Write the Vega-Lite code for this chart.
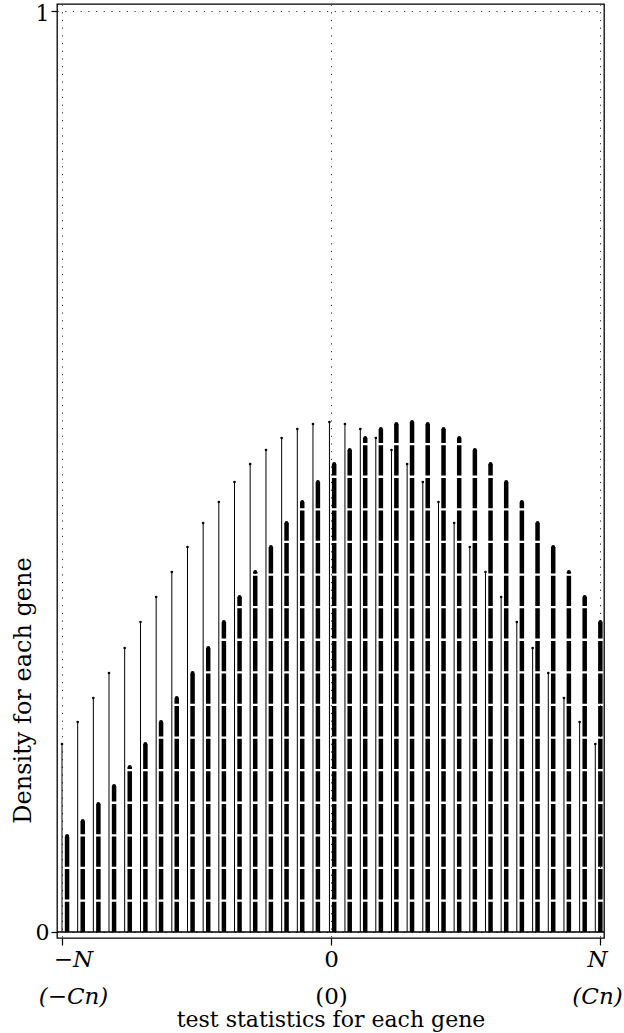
{
  "$schema": "https://vega.github.io/schema/vega-lite/v6.json",
  "width": 547,
  "height": 934,
  "autosize": "none",
  "padding": {"left": 57, "top": 4, "right": 20, "bottom": 95},
  "background": "white",
  "datasets": {
    "thin": [
      {"x": -17.00, "d": 0.2041}, {"x": -16.01, "d": 0.2280}, {"x": -15.02, "d": 0.2541},
      {"x": -14.03, "d": 0.2812}, {"x": -13.04, "d": 0.3084}, {"x": -12.04, "d": 0.3366},
      {"x": -11.05, "d": 0.3637}, {"x": -10.06, "d": 0.3909}, {"x": -9.07, "d": 0.4180},
      {"x": -8.08, "d": 0.4441}, {"x": -7.09, "d": 0.4669}, {"x": -6.10, "d": 0.4886},
      {"x": -5.11, "d": 0.5081}, {"x": -4.11, "d": 0.5233}, {"x": -3.12, "d": 0.5364},
      {"x": -2.13, "d": 0.5461}, {"x": -1.14, "d": 0.5516}, {"x": -0.10, "d": 0.5537},
      {"x": 0.88, "d": 0.5516}, {"x": 1.85, "d": 0.5461}, {"x": 2.83, "d": 0.5364},
      {"x": 3.82, "d": 0.5233}, {"x": 4.81, "d": 0.5081}, {"x": 5.80, "d": 0.4886},
      {"x": 6.79, "d": 0.4669}, {"x": 7.78, "d": 0.4441}, {"x": 8.77, "d": 0.4180},
      {"x": 9.76, "d": 0.3909}, {"x": 10.75, "d": 0.3637}, {"x": 11.74, "d": 0.3366},
      {"x": 12.74, "d": 0.3084}, {"x": 13.73, "d": 0.2812}, {"x": 14.72, "d": 0.2541},
      {"x": 15.71, "d": 0.2280}, {"x": 16.70, "d": 0.2041}
    ],
    "thick": [
      {"x": -16.68, "d": 0.1042}, {"x": -15.69, "d": 0.1205}, {"x": -14.70, "d": 0.1390},
      {"x": -13.71, "d": 0.1585}, {"x": -12.72, "d": 0.1792}, {"x": -11.73, "d": 0.2041},
      {"x": -10.74, "d": 0.2280}, {"x": -9.75, "d": 0.2541}, {"x": -8.75, "d": 0.2812},
      {"x": -7.76, "d": 0.3084}, {"x": -6.77, "d": 0.3366}, {"x": -5.78, "d": 0.3637},
      {"x": -4.79, "d": 0.3909}, {"x": -3.80, "d": 0.4180}, {"x": -2.81, "d": 0.4441},
      {"x": -1.82, "d": 0.4669}, {"x": -0.83, "d": 0.4886}, {"x": 0.20, "d": 0.5081},
      {"x": 1.18, "d": 0.5233}, {"x": 2.16, "d": 0.5364}, {"x": 3.15, "d": 0.5461},
      {"x": 4.13, "d": 0.5516}, {"x": 5.12, "d": 0.5537}, {"x": 6.11, "d": 0.5516},
      {"x": 7.11, "d": 0.5461}, {"x": 8.10, "d": 0.5364}, {"x": 9.09, "d": 0.5233},
      {"x": 10.08, "d": 0.5081}, {"x": 11.07, "d": 0.4886}, {"x": 12.06, "d": 0.4669},
      {"x": 13.05, "d": 0.4441}, {"x": 14.04, "d": 0.4180}, {"x": 15.03, "d": 0.3909},
      {"x": 16.03, "d": 0.3637}, {"x": 17.02, "d": 0.3366}
    ],
    "base": [{"y": 0}]
  },
  "data": {"name": "thin"},
  "layer": [
    {
      "mark": {"type": "rule", "stroke": "black", "strokeWidth": 1},
      "encoding": {
        "x": {
          "field": "x",
          "type": "quantitative",
          "scale": {"domain": [-17.316, 17.25], "nice": false, "zero": false},
          "axis": {
            "values": [-17, 0, 17],
            "title": "test statistics for each gene",
            "titleFontSize": 22,
            "titleY": 81,
            "titleBaseline": "middle",
            "labelExpr": "datum.value == 0 ? ['0', '(0)'] : (datum.value < 0 ? ['−N', '(−Cn)'] : ['N', '(Cn)'])",
            "labelFontStyle": {"condition": {"test": "datum.value != 0", "value": "italic"}, "value": "normal"},
            "labelOffset": {
              "condition": [
                {"test": "datum.value < 0", "value": 11},
                {"test": "datum.value > 0", "value": -3}
              ],
              "value": 0
            },
            "labelFontSize": 23,
            "labelLineHeight": 37,
            "labelBaseline": "top",
            "labelPadding": 3,
            "tickSize": 7
          }
        },
        "y": {
          "field": "d",
          "type": "quantitative",
          "scale": {"domain": [-0.0065, 1.0076], "nice": false, "zero": false},
          "axis": {
            "values": [0, 1],
            "format": "d",
            "title": "Density for each gene",
            "titleFontSize": 24,
            "titleX": -34,
            "titleY": 686,
            "titleAngle": -90,
            "titleAlign": "center",
            "titleBaseline": "middle",
            "labelFontSize": 22,
            "labelPadding": 2,
            "labelOffset": {"condition": {"test": "datum.value == 1", "value": 3}, "value": 0},
            "tickSize": 6
          }
        },
        "y2": {"datum": 0}
      }
    },
    {
      "data": {"name": "base"},
      "mark": {"type": "rule", "stroke": "black", "strokeWidth": 1.5},
      "encoding": {"y": {"field": "y", "type": "quantitative"}}
    },
    {
      "mark": {"type": "circle", "color": "black", "opacity": 1, "size": 7},
      "encoding": {
        "x": {"field": "x", "type": "quantitative"},
        "y": {"field": "d", "type": "quantitative"}
      }
    },
    {
      "data": {"name": "thick"},
      "mark": {
        "type": "rule",
        "stroke": "black",
        "strokeWidth": 4.5,
        "strokeDash": [30.3, 2.3],
        "strokeDashOffset": {"expr": "-(scale('y', 0) - scale('y', datum.d) + 2.3)"},
        "strokeCap": "butt"
      },
      "encoding": {
        "x": {"field": "x", "type": "quantitative"},
        "y": {"field": "d", "type": "quantitative"},
        "y2": {"datum": 0}
      }
    },
    {
      "data": {"name": "thick"},
      "mark": {"type": "circle", "color": "black", "opacity": 1, "size": 16},
      "encoding": {
        "x": {"field": "x", "type": "quantitative"},
        "y": {"field": "d", "type": "quantitative"}
      }
    }
  ],
  "config": {
    "view": {"stroke": "black", "strokeWidth": 1.3},
    "font": "DejaVu Serif",
    "axis": {
      "domain": false,
      "grid": true,
      "gridColor": "#333333",
      "gridDash": [1.2, 6.5],
      "gridWidth": 1,
      "ticks": true,
      "tickColor": "black",
      "tickWidth": 1.2,
      "labelFont": "DejaVu Serif",
      "labelColor": "black",
      "labelFlush": false,
      "labelBound": false,
      "labelOverlap": false,
      "titleFont": "DejaVu Serif",
      "titleFontWeight": "normal",
      "titleColor": "black"
    }
  }
}
